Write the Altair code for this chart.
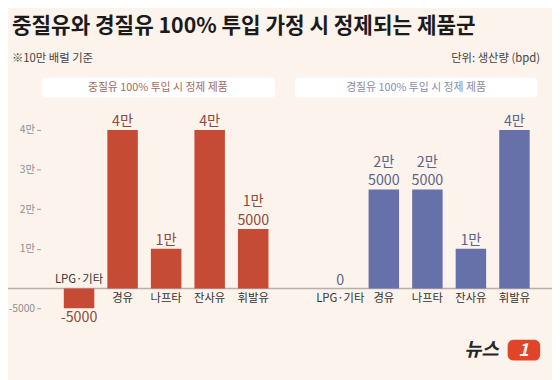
import altair as alt
import pandas as pd

# ---- data ----
categories = ["LPG·기타", "경유", "나프타", "잔사유", "휘발유"]
heavy_values = [-5000, 40000, 10000, 40000, 15000]   # 중질유 100% 투입
light_values = [0, 25000, 25000, 10000, 40000]       # 경질유 100% 투입
y_ticks = [-5000, 10000, 20000, 30000, 40000]

title_text = "중질유와 경질유 100% 투입 가정 시 정제되는 제품군"
note_text = "※10만 배럴 기준"
unit_text = "단위: 생산량 (bpd)"
heavy_header = "중질유 100% 투입 시 정제 제품"
light_header = "경질유 100% 투입 시 정제 제품"

FONT = "Noto Sans CJK KR"
BG = "#fcf3ec"
RED = "#c64b35"
BLUE = "#6771a9"


def fmt_lines(v):
    """returns (upper line, lower line) of the value label"""
    if v <= 0:
        return "", str(v)
    man, rest = divmod(v, 10000)
    if man and rest:
        return f"{man}만", str(rest)
    if man:
        return "", f"{man}만"
    return "", str(rest)


rows = []
for g, vals in (("heavy", heavy_values), ("light", light_values)):
    for c, v in zip(categories, vals):
        up, low = fmt_lines(v)
        rows.append({"slot": f"{g}_{c}", "cat": c, "group": g, "value": v, "up": up, "low": low})
df = pd.DataFrame(rows)

slots = [f"heavy_{c}" for c in categories] + ["gap"] + [f"light_{c}" for c in categories]

x_enc = alt.X("slot:N", scale=alt.Scale(domain=slots, range=[50, 536], paddingInner=0.3, paddingOuter=0.15), axis=None)
y_scale = alt.Scale(domain=[-5000, 40000], range=[302, 121], nice=False, zero=False)
color_enc = alt.Color("group:N", scale=alt.Scale(domain=["heavy", "light"], range=[RED, BLUE]), legend=None)
label_color = alt.condition("datum.group == 'heavy'", alt.value("#8e4b3f"), alt.value("#5d6587"))

base = alt.Chart(df)

bars = base.mark_bar().encode(
    x=x_enc,
    y=alt.Y("value:Q", scale=y_scale,
            axis=alt.Axis(values=y_ticks, offset=-33, domain=False, grid=False, tickSize=4,
                          tickColor="#9a9a9a", tickWidth=1, labelPadding=2, labelColor="#8f8f8f",
                          labelFontSize=10.5, labelFont=FONT, title=None,
                          labelExpr="datum.value == -5000 ? '-5000' : (datum.value/10000) + '만'")),
    y2=alt.datum(0),
    color=color_enc,
)

zero_rule = alt.Chart(alt.Data(values=[{"v": 0}])).mark_rule(color="#b9b0aa", strokeWidth=1.5).encode(
    y=alt.Y("v:Q", scale=y_scale), x=alt.value(-8), x2=alt.value(552)
)

val_low = base.transform_filter("datum.value >= 0").mark_text(
    baseline="bottom", dy=-1, fontSize=14.5, font=FONT
).encode(x=x_enc, y=alt.Y("value:Q", scale=y_scale), text="low:N", color=label_color)

val_up = base.transform_filter("datum.value > 0 && datum.up != ''").mark_text(
    baseline="bottom", dy=-20, fontSize=14.5, font=FONT
).encode(x=x_enc, y=alt.Y("value:Q", scale=y_scale), text="up:N", color=label_color)

val_neg = base.transform_filter("datum.value < 0").mark_text(
    baseline="top", dy=3, fontSize=14.5, font=FONT
).encode(x=x_enc, y=alt.Y("value:Q", scale=y_scale), text="low:N", color=label_color)

cat_below = base.transform_filter("datum.value >= 0").mark_text(
    baseline="top", dy=5, fontSize=11.5, font=FONT, color="#333333"
).encode(x=x_enc, y=alt.datum(0, scale=y_scale), text="cat:N")

cat_above = base.transform_filter("datum.value < 0").mark_text(
    baseline="bottom", dy=-4, fontSize=11.5, font=FONT, color="#333333"
).encode(x=x_enc, y=alt.datum(0, scale=y_scale), text="cat:N")

one = alt.Data(values=[{}])

def txt(text, x, y, **kw):
    return alt.Chart(one).mark_text(text=text, font=FONT, **kw).encode(x=alt.value(x), y=alt.value(y))

header_boxes = [
    alt.Chart(one).mark_rect(fill="white", cornerRadius=4).encode(
        x=alt.value(34), x2=alt.value(271), y=alt.value(68), y2=alt.value(88)),
    alt.Chart(one).mark_rect(fill="white", cornerRadius=4).encode(
        x=alt.value(291), x2=alt.value(537), y=alt.value(68), y2=alt.value(88)),
]

texts = [
    txt(title_text, 4, 17, align="left", baseline="middle", fontSize=21.6, fontWeight="bold", color="#1b1b1b"),
    txt(note_text, 4, 49, align="left", baseline="middle", fontSize=11.5, color="#444444"),
    txt(unit_text, 540, 49, align="right", baseline="middle", fontSize=11.5, color="#444444"),
    txt(heavy_header, 152, 78, align="center", baseline="middle", fontSize=11, color="#a06a5e"),
    txt(light_header, 414, 78, align="center", baseline="middle", fontSize=11, color="#878ca8"),
    txt("뉴스", 463, 344, align="left", baseline="middle", fontSize=19, fontWeight="bold",
        fontStyle="italic", color="#262626"),
]

logo_box = alt.Chart(one).mark_rect(fill="#e0452a", cornerRadius=6).encode(
    x=alt.value(507), x2=alt.value(540), y=alt.value(334), y2=alt.value(355))
logo_one = txt("1", 523, 345, align="center", baseline="middle", fontSize=18, fontWeight="bold",
               fontStyle="italic", color="#fcf3ec")

chart = alt.layer(
    *header_boxes, zero_rule, bars, val_low, val_up, val_neg, cat_below, cat_above, *texts, logo_box, logo_one
).properties(
    width=552, height=372, background=BG,
    autosize=alt.AutoSizeParams(type="none"), padding=0,
).configure_view(stroke=None)

chart.save("out.html", embed_options={"renderer": "svg", "actions": False})
